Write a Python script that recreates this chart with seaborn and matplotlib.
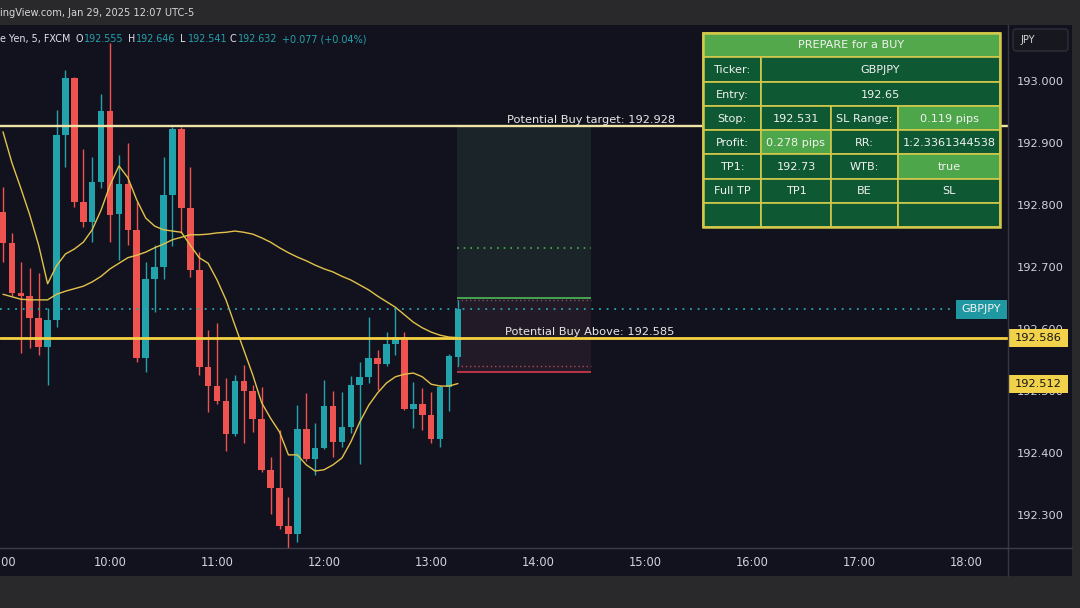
import numpy as np
import pandas as pd
import matplotlib
matplotlib.use("Agg")
import matplotlib.pyplot as plt
import matplotlib.transforms as mtransforms
from matplotlib.patches import Rectangle, FancyBboxPatch
import seaborn as sns

# ---------------- data ----------------
time_labels = ["9:00", "10:00", "11:00", "12:00", "13:00", "14:00",
               "15:00", "16:00", "17:00", "18:00"]
bars_per_hour = 12

opens = [192.789, 192.739, 192.658, 192.653, 192.618, 192.571, 192.615, 192.913, 193.005, 192.805,
         192.773, 192.837, 192.952, 192.785, 192.834, 192.760, 192.553, 192.681, 192.700, 192.816,
         192.923, 192.795, 192.695, 192.539, 192.508, 192.484, 192.431, 192.516, 192.500, 192.455,
         192.373, 192.344, 192.282, 192.269, 192.439, 192.390, 192.408, 192.476, 192.418, 192.442,
         192.510, 192.523, 192.553, 192.544, 192.576, 192.587, 192.471, 192.479, 192.461, 192.423,
         192.506, 192.555]
closes = [192.739, 192.658, 192.653, 192.618, 192.571, 192.615, 192.913, 193.005, 192.805, 192.773,
          192.837, 192.952, 192.784, 192.834, 192.760, 192.553, 192.681, 192.700, 192.816, 192.923,
          192.795, 192.695, 192.539, 192.508, 192.484, 192.431, 192.516, 192.500, 192.455, 192.373,
          192.344, 192.282, 192.269, 192.439, 192.390, 192.408, 192.476, 192.418, 192.442, 192.510,
          192.523, 192.553, 192.544, 192.576, 192.587, 192.471, 192.479, 192.461, 192.423, 192.506,
          192.556, 192.632]
highs = [192.829, 192.755, 192.708, 192.698, 192.690, 192.634, 192.953, 193.018, 193.007, 192.890,
         192.877, 192.979, 193.061, 192.881, 192.900, 192.805, 192.708, 192.735, 192.877, 192.926,
         192.926, 192.861, 192.724, 192.598, 192.610, 192.521, 192.526, 192.542, 192.510, 192.506,
         192.394, 192.437, 192.329, 192.477, 192.497, 192.448, 192.518, 192.500, 192.498, 192.524,
         192.547, 192.619, 192.566, 192.595, 192.634, 192.595, 192.515, 192.505, 192.498, 192.510,
         192.560, 192.646]
lows = [192.708, 192.653, 192.561, 192.569, 192.558, 192.510, 192.603, 192.861, 192.797, 192.765,
        192.740, 192.827, 192.740, 192.711, 192.735, 192.547, 192.531, 192.627, 192.681, 192.734,
        192.755, 192.684, 192.526, 192.466, 192.479, 192.403, 192.427, 192.416, 192.434, 192.369,
        192.302, 192.277, 192.240, 192.256, 192.387, 192.365, 192.406, 192.394, 192.410, 192.432,
        192.382, 192.513, 192.502, 192.540, 192.558, 192.469, 192.440, 192.437, 192.416, 192.410,
        192.468, 192.541]

ma_fast = [192.918, 192.868, 192.827, 192.784, 192.735, 192.673,
           192.702, 192.721, 192.729, 192.740, 192.760, 192.792,
           192.832, 192.863, 192.844, 192.808, 192.779, 192.766,
           192.760, 192.758, 192.756, 192.735, 192.715, 192.706,
           192.679, 192.647, 192.606, 192.566, 192.526, 192.481,
           192.456, 192.434, 192.397, 192.397, 192.381, 192.371,
           192.373, 192.381, 192.392, 192.418, 192.450, 192.477,
           192.497, 192.513, 192.523, 192.527, 192.529, 192.523,
           192.511, 192.508, 192.508, 192.512]
ma_slow = [192.656, 192.652, 192.648, 192.647, 192.647, 192.647,
           192.656, 192.661, 192.665, 192.669, 192.676, 192.685,
           192.697, 192.706, 192.715, 192.719, 192.724, 192.731,
           192.737, 192.744, 192.748, 192.752, 192.752, 192.753,
           192.755, 192.756, 192.758, 192.756, 192.753, 192.747,
           192.740, 192.731, 192.723, 192.716, 192.710, 192.703,
           192.697, 192.692, 192.685, 192.679, 192.671, 192.663,
           192.653, 192.644, 192.635, 192.623, 192.611, 192.602,
           192.595, 192.590, 192.587, 192.586]

y_ticks = [192.3, 192.4, 192.5, 192.6, 192.7, 192.8, 192.9, 193.0]

target_price = 192.928
buy_above_price = 192.585
entry_price = 192.65
stop_price = 192.531
tp1_price = 192.73
ma_fast_last = 192.512
ma_slow_last = 192.586
symbol = "GBPJPY"
currency = "JPY"

header_line1 = "ingView.com, Jan 29, 2025 12:07 UTC-5"
header_name = "e Yen, 5, FXCM"
ohlc_keys = ["O", "H", "L", "C"]
ohlc_vals = ["192.555", "192.646", "192.541", "192.632"]
change_txt = "+0.077 (+0.04%)"

table_title = "PREPARE for a BUY"
table_rows = [
    [("Ticker:", 1, False), ("GBPJPY", 3, False)],
    [("Entry:", 1, False), ("192.65", 3, False)],
    [("Stop:", 1, False), ("192.531", 1, False), ("SL Range:", 1, False), ("0.119 pips", 1, True)],
    [("Profit:", 1, False), ("0.278 pips", 1, True), ("RR:", 1, False), ("1:2.3361344538", 1, False)],
    [("TP1:", 1, False), ("192.73", 1, False), ("WTB:", 1, False), ("true", 1, True)],
    [("Full TP", 1, False), ("TP1", 1, False), ("BE", 1, False), ("SL", 1, False)],
    [("", 1, False), ("", 1, False), ("", 1, False), ("", 1, False)],
]

# ---------------- style ----------------
sns.set_style("dark")
plt.rcParams["font.family"] = ["DejaVu Sans"]

BG = "#12121e"
GREY = "#29292b"
UP = "#22a2ab"
DOWN = "#ef5350"
TXT = "#d1d4dc"

W, H = 1080, 608
fig = plt.figure(figsize=(W / 100, H / 100), dpi=100, facecolor=GREY)

# background layer (pixel coords)
bg = fig.add_axes([0, 0, 1, 1], zorder=-1)
bg.set_xlim(0, W)
bg.set_ylim(H, 0)
bg.axis("off")
bg.add_patch(Rectangle((0, 0), W, H, facecolor=GREY, edgecolor="none"))
bg.add_patch(Rectangle((0, 25), 1072, 551, facecolor=BG, edgecolor="none"))

# main chart axes
ax = fig.add_axes([0, (H - 548) / H, 1008 / W, (548 - 25) / H], zorder=0)
ax.set_facecolor(BG)
for s in ax.spines.values():
    s.set_visible(False)
ax.grid(False)
ax.set_xlim(-0.336, 112.67)
ax.set_ylim(192.2468, 193.0903)

idx = np.arange(len(opens))
o = np.array(opens); c = np.array(closes); hi = np.array(highs); lo = np.array(lows)
cols = [UP if cc >= oo else DOWN for oo, cc in zip(o, c)]

# position zones
box_l, box_r = 50.93, 65.9
ax.add_patch(Rectangle((box_l, entry_price), box_r - box_l, target_price - entry_price,
                       facecolor="#1b2428", edgecolor="none", zorder=1))
ax.add_patch(Rectangle((box_l, stop_price), box_r - box_l, entry_price - stop_price,
                       facecolor="#231a27", edgecolor="none", zorder=1))
ax.hlines(tp1_price, box_l, box_r, colors="#4caf50", lw=1.2, linestyles=(0, (1, 3)), zorder=2)
ax.hlines(highs[-1], box_l, box_r, colors="#6e5562", lw=1.0, linestyles=(0, (1, 2)), zorder=2)
ax.hlines(lows[-1], box_l, box_r, colors="#a8485e", lw=1.0, linestyles=(0, (1, 2)), zorder=2)
ax.hlines(entry_price, box_l, box_r, colors="#4caf50", lw=1.3, zorder=2)
ax.hlines(stop_price, box_l, box_r, colors="#c8384c", lw=1.3, zorder=2)

# candles
ax.vlines(idx, lo, hi, colors=cols, lw=1.0, zorder=3)
ax.bar(idx, np.maximum(np.abs(c - o), 0.002), bottom=np.minimum(o, c), width=0.74,
       color=cols, linewidth=0, zorder=3.5)

# moving averages
df = pd.DataFrame({"bar": idx, "fast": ma_fast, "slow": ma_slow})
sns.lineplot(data=df, x="bar", y="fast", ax=ax, color="#e2c24a", lw=1.0, zorder=4)
sns.lineplot(data=df, x="bar", y="slow", ax=ax, color="#e2c24a", lw=1.0, zorder=4)
ax.set_xlabel("")
ax.set_ylabel("")

# horizontal levels
ax.axhline(target_price, color="#efe3a6", lw=1.7, zorder=5)
ax.axhline(buy_above_price, color="#f5d142", lw=2.0, zorder=5)
ax.plot([-0.336, 106.7], [closes[-1], closes[-1]], color="#27a5b0", lw=1.3,
        linestyle=(0, (1, 3.2)), zorder=5)

up3 = mtransforms.offset_copy(ax.transData, fig=fig, y=3, units="dots")
ax.text(75.3, target_price, f"Potential Buy target: {target_price}", transform=up3,
        ha="right", va="baseline", color="#e8e8e8", fontsize=8.2, zorder=6)
ax.text(75.3, buy_above_price, f"Potential Buy Above: {buy_above_price}", transform=up3,
        ha="right", va="baseline", color="#e8e8e8", fontsize=8.2, zorder=6)

# ticks
ax.yaxis.tick_right()
ax.set_yticks(y_ticks)
ax.set_yticklabels([f"{v:.3f}" for v in y_ticks])
ax.tick_params(axis="y", length=0, pad=6.5, labelsize=8.2, labelcolor=TXT)
ax.set_xticks(np.arange(len(time_labels)) * bars_per_hour)
ax.set_xticklabels(time_labels)
ax.tick_params(axis="x", length=0, pad=5.5, labelsize=8.3, labelcolor=TXT)

# price labels on the axis
blend = mtransforms.blended_transform_factory(ax.transAxes, ax.transData)
half = 9 / 620.0
for price, txt in [(ma_slow_last, f"{ma_slow_last:.3f}"), (ma_fast_last, f"{ma_fast_last:.3f}")]:
    ax.add_patch(Rectangle((1.001, price - half), 0.0585, 2 * half, transform=blend,
                           facecolor="#f2d24b", edgecolor="none", clip_on=False, zorder=10))
    ax.text(1.03, price, txt, transform=blend, ha="center", va="center",
            fontsize=8.2, color="#151515", clip_on=False, zorder=11)
ax.add_patch(Rectangle((0.948, closes[-1] - 9.5 / 620), 0.051, 19 / 620, transform=blend,
                       facecolor="#2098a2", edgecolor="none", clip_on=False, zorder=10))
ax.text(0.9735, closes[-1], symbol, transform=blend, ha="center", va="center",
        fontsize=8, color="#f4f4f4", clip_on=False, zorder=11)

# foreground overlay (pixel coords)
fg = fig.add_axes([0, 0, 1, 1], zorder=10)
fg.set_xlim(0, W)
fg.set_ylim(H, 0)
fg.axis("off")
fg.patch.set_alpha(0)

fg.plot([1008, 1008], [25, 576], color="#343744", lw=1.0)
fg.plot([0, 1072], [548, 548], color="#3b3e4a", lw=1.0)

fg.text(0, 13, header_line1, ha="left", va="center", fontsize=7.1, color="#d6d6d6")
fg.text(0, 39, header_name, ha="left", va="center", fontsize=6.9, color="#e0e3eb")
key_x = [76, 128, 180, 230]
for kx, k, v in zip(key_x, ohlc_keys, ohlc_vals):
    fg.text(kx, 39, k, ha="left", va="center", fontsize=6.9, color="#e0e3eb")
    fg.text(kx + 7.5, 39, v, ha="left", va="center", fontsize=6.9, color=UP)
fg.text(282, 39, change_txt, ha="left", va="center", fontsize=6.9, color=UP)

# currency box
fg.add_patch(FancyBboxPatch((1013, 29), 55, 22, boxstyle="round,pad=0,rounding_size=3",
                            facecolor="#17171f", edgecolor="#2e2e38", lw=1.0))
fg.text(1020, 40, currency, ha="left", va="center", fontsize=7, color="#d6d6d6")

# table
DARK = "#0e5834"
LIGHT = "#4ea64a"
BORDER = "#d2c94a"
row_edges = [33, 57, 82, 106, 130, 154, 179, 203, 227]
col_edges = [703, 761, 831, 898, 1000]
fg.add_patch(Rectangle((col_edges[0], row_edges[0]), col_edges[-1] - col_edges[0],
                       row_edges[1] - row_edges[0], facecolor="#52a84a", edgecolor=BORDER, lw=1.2))
fg.text((col_edges[0] + col_edges[-1]) / 2, (row_edges[0] + row_edges[1]) / 2 + 0.5, table_title,
        ha="center", va="center", fontsize=8.1, color="#f2f2f2")
for r, row in enumerate(table_rows):
    y0, y1 = row_edges[r + 1], row_edges[r + 2]
    ci = 0
    for txt, span, light in row:
        x0, x1 = col_edges[ci], col_edges[ci + span]
        fg.add_patch(Rectangle((x0, y0), x1 - x0, y1 - y0, facecolor=LIGHT if light else DARK,
                               edgecolor=BORDER, lw=1.2))
        if txt:
            fg.text((x0 + x1) / 2, (y0 + y1) / 2 + 0.5, txt, ha="center", va="center",
                    fontsize=8.1, color="#f2f2f2")
        ci += span
fg.add_patch(Rectangle((col_edges[0], row_edges[0]), col_edges[-1] - col_edges[0],
                       row_edges[-1] - row_edges[0], facecolor="none", edgecolor=BORDER, lw=1.8))

fig.savefig("out.png", dpi=100, facecolor=GREY)
